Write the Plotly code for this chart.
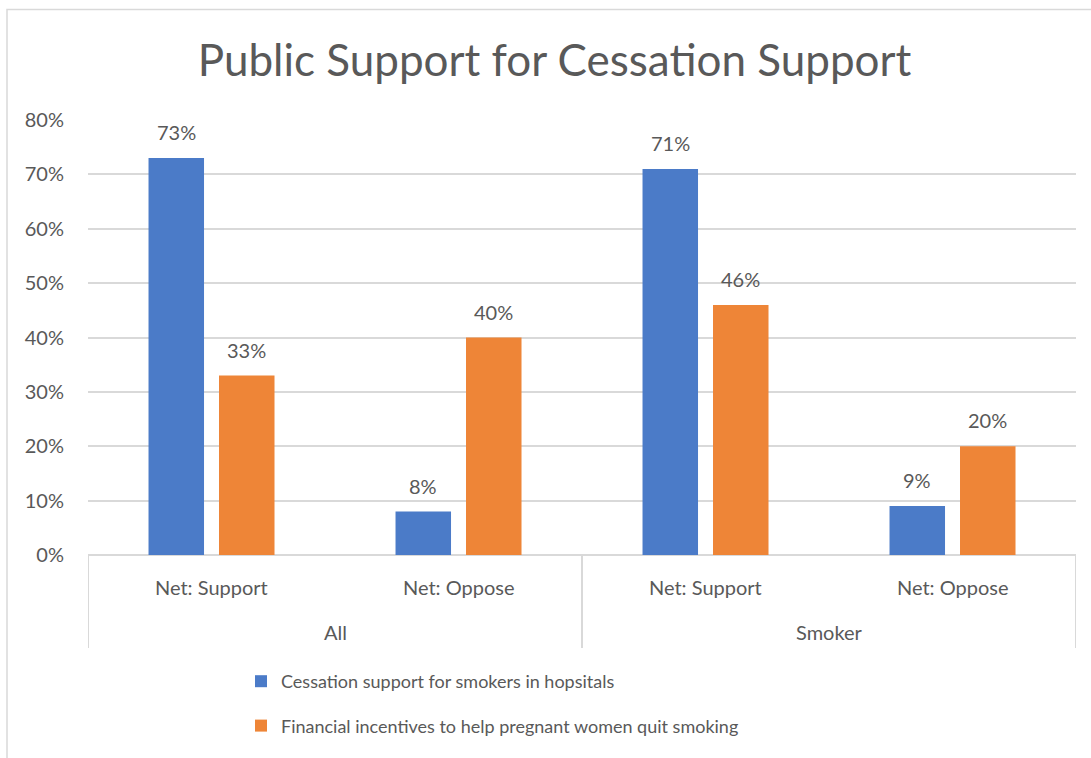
import plotly.graph_objects as go

# Data
groups = ["All", "All", "Smoker", "Smoker"]
subcats = ["Net: Support", "Net: Oppose", "Net: Support", "Net: Oppose"]
hospital_support = [73, 8, 71, 9]
pregnancy_incentives = [33, 40, 46, 20]
series_names = [
    "Cessation support for smokers in hopsitals",
    "Financial incentives to help pregnant women quit smoking",
]
y_ticks = [0, 10, 20, 30, 40, 50, 60, 70, 80]
y_tick_labels = [f"{t}%" for t in y_ticks]

# Figure geometry (pixels)
W, H = 1091, 758
PL, PR, PT, PB = 88, 1076, 120, 555

BLUE = "#4B7BC8"
ORANGE = "#EE8537"
TEXT = "#595959"
GRID = "#D9D9D9"
FONT = "Lato"

x_pos = list(range(len(subcats)))
bar_w = 0.2247
offsets = [-0.255, 0.0304]


def px_x(px):
    return (px - PL) / (PR - PL)


def px_y(py):
    return (PB - py) / (PB - PT)


fig = go.Figure()
for name, vals, color, off in zip(series_names, [hospital_support, pregnancy_incentives],
                                   [BLUE, ORANGE], offsets):
    fig.add_trace(go.Bar(
        x=x_pos, y=vals, name=name, marker=dict(color=color, line=dict(width=0)),
        width=bar_w, offset=off, legendgroup=name,
    ))

annotations = []
# value labels above bars
for vals, off in zip([hospital_support, pregnancy_incentives], offsets):
    for xi, v in zip(x_pos, vals):
        annotations.append(dict(
            x=xi + off + bar_w / 2, y=v, xref="x", yref="y", text=f"{v}%",
            showarrow=False, yanchor="middle", yshift=26,
            font=dict(family=FONT, size=20, color=TEXT),
        ))
# sub-category labels
for xi, s in zip(x_pos, subcats):
    annotations.append(dict(
        x=xi, y=px_y(587), xref="x", yref="paper", text=s, showarrow=False,
        yanchor="middle", font=dict(family=FONT, size=20, color=TEXT),
    ))
# group labels
group_names = []
for g in groups:
    if g not in group_names:
        group_names.append(g)
for g in group_names:
    idx = [i for i, gg in enumerate(groups) if gg == g]
    annotations.append(dict(
        x=sum(idx) / len(idx), y=px_y(632), xref="x", yref="paper", text=g,
        showarrow=False, yanchor="middle", font=dict(family=FONT, size=20, color=TEXT),
    ))

shapes = []
# group dividers under the category axis
bounds = [-0.5]
for i in range(1, len(groups)):
    if groups[i] != groups[i - 1]:
        bounds.append(i - 0.5)
bounds.append(len(groups) - 0.5)
for b in bounds:
    shapes.append(dict(type="line", xref="x", yref="paper", x0=b, x1=b,
                       y0=0, y1=px_y(648), line=dict(color=GRID, width=2)))
# chart border
shapes.append(dict(type="rect", xref="paper", yref="paper",
                   x0=px_x(7), x1=px_x(1100), y0=px_y(9.5), y1=px_y(770),
                   line=dict(color=GRID, width=1.5), layer="below"))

fig.update_layout(
    width=W, height=H,
    margin=dict(l=PL, r=W - PR, t=PT, b=H - PB, autoexpand=False),
    paper_bgcolor="white", plot_bgcolor="white",
    title=dict(text="Public Support for Cessation Support", x=554.5 / W,
               xanchor="center", y=1 - 61 / H, yanchor="middle", yref="container",
               font=dict(family=FONT, size=44, color=TEXT)),
    xaxis=dict(range=[-0.5, len(subcats) - 0.5], showticklabels=False, showgrid=False,
               zeroline=False, showline=False, fixedrange=True),
    yaxis=dict(range=[0, 80], tickvals=y_ticks, ticktext=y_tick_labels, showgrid=True,
               gridcolor=GRID, gridwidth=1.5, zeroline=True, zerolinecolor=GRID,
               zerolinewidth=2, showline=False, ticks="outside", ticklen=19,
               tickcolor="rgba(0,0,0,0)",
               tickfont=dict(family=FONT, size=20, color=TEXT)),
    showlegend=True,
    legend=dict(orientation="v", x=px_x(241), y=px_y(663), xanchor="left", yanchor="top",
                font=dict(family=FONT, size=18, color=TEXT), tracegroupgap=18,
                bgcolor="rgba(0,0,0,0)"),
    annotations=annotations,
    shapes=shapes,
    bargap=0.43,
)

fig.write_html("out.html")
